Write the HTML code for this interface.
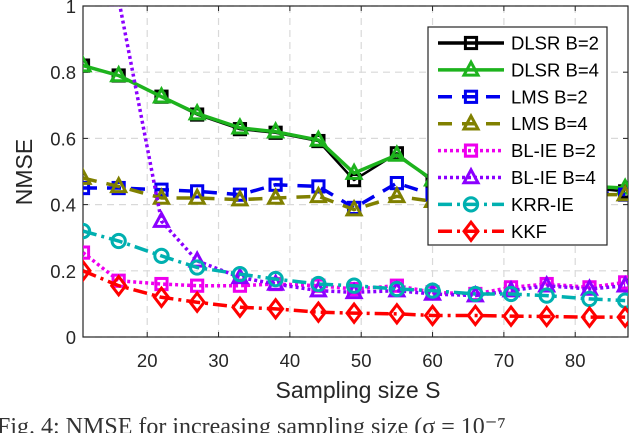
<!DOCTYPE html>
<html><head><meta charset="utf-8"><style>
body{margin:0;background:#fff;overflow:hidden;}
svg{display:block;font-family:"Liberation Sans",Arial,sans-serif;}
</style></head><body>
<svg id="chart" width="640" height="433" viewBox="0 0 640 433"></svg>
<script>
const xValues=[11,16,22,27,33,38,44,49,55,60,66,71,76,82,87];
const dlsr2=[0.82,0.79,0.726,0.672,0.628,0.617,0.592,0.474,0.555,0.47,0.46,0.455,0.45,0.45,0.44];
const dlsr4=[0.82,0.79,0.726,0.675,0.632,0.62,0.595,0.495,0.55,0.475,0.465,0.46,0.455,0.455,0.45];
const lms2=[0.45,0.45,0.445,0.44,0.43,0.46,0.455,0.39,0.465,0.43,0.44,0.44,0.44,0.44,0.43];
const lms4=[0.48,0.455,0.42,0.42,0.415,0.42,0.425,0.385,0.425,0.41,0.42,0.42,0.42,0.43,0.43];
const blie2=[0.255,0.17,0.16,0.155,0.155,0.16,0.155,0.145,0.155,0.135,0.13,0.15,0.16,0.15,0.165];
const blie4=[3,1.02,0.35,0.23,0.18,0.16,0.14,0.135,0.14,0.13,0.125,0.14,0.155,0.145,0.155];
const krr=[0.32,0.29,0.245,0.21,0.19,0.175,0.16,0.155,0.145,0.14,0.13,0.13,0.125,0.115,0.11];
const kkf=[0.2,0.155,0.12,0.105,0.09,0.085,0.075,0.072,0.07,0.065,0.065,0.063,0.062,0.06,0.06];
const xTicks=[20,30,40,50,60,70,80];
const yTicks=[0,0.2,0.4,0.6,0.8,1];
const yTickLabels=["0","0.2","0.4","0.6","0.8","1"];

const L=83,R=628,T=6,B=337,XMIN=11,XMAX=87.4;
const sx=v=>L+(v-XMIN)/(XMAX-XMIN)*(R-L);
const sy=v=>B-v*(B-T);
const NS="http://www.w3.org/2000/svg";
const svg=document.getElementById('chart');
function mk(tag,attrs,parent){const e=document.createElementNS(NS,tag);for(const k in attrs)e.setAttribute(k,attrs[k]);(parent||svg).appendChild(e);return e;}

const defs=mk('defs',{});
const cp=mk('clipPath',{id:'plotclip'},defs);
mk('rect',{x:L,y:T,width:R-L,height:B-T},cp);

const grid=mk('g',{});


xTicks.forEach(t=>{mk('line',{x1:sx(t),x2:sx(t),y1:T,y2:B,stroke:'#d9d9d9','stroke-width':1.2,'stroke-dasharray':'7,5'},grid);});
yTicks.forEach(t=>{mk('line',{x1:L,x2:R,y1:sy(t),y2:sy(t),stroke:'#d9d9d9','stroke-width':1.2,'stroke-dasharray':'7,5'},grid);});

const axes=mk('g',{});


mk('rect',{x:L,y:T,width:R-L,height:B-T,fill:'none',stroke:'#262626','stroke-width':1.2},axes);
xTicks.forEach(t=>{
  mk('line',{x1:sx(t),x2:sx(t),y1:B,y2:B-5,stroke:'#262626'},axes);
  mk('line',{x1:sx(t),x2:sx(t),y1:T,y2:T+5,stroke:'#262626'},axes);
  const tx=mk('text',{x:sx(t),y:367,'text-anchor':'middle','font-size':18.5,fill:'#262626'},axes);
  
  
  tx.textContent=t;
});
yTicks.forEach((t,i)=>{
  mk('line',{x1:L,x2:L+5,y1:sy(t),y2:sy(t),stroke:'#262626'},axes);
  mk('line',{x1:R,x2:R-5,y1:sy(t),y2:sy(t),stroke:'#262626'},axes);
  const tx=mk('text',{x:L-7,y:sy(t)+7,'text-anchor':'end','font-size':18.5,fill:'#262626'},axes);
  
  
  tx.textContent=yTickLabels[i];
});
const xl=mk('text',{x:358,y:398,'text-anchor':'middle','font-size':23,fill:'#262626'});


xl.textContent='Sampling size S';
const yl=mk('text',{x:0,y:0,'text-anchor':'middle','font-size':23,fill:'#262626',transform:'translate(32,172) rotate(-90)'});


yl.textContent='NMSE';
const cap=mk('text',{x:-3,y:434,'font-size':24,fill:'#333','font-family':'"Liberation Serif",serif'});


cap.textContent='Fig. 4: NMSE for increasing sampling size (σ = 10⁻⁷';

function marker(g,type,x,y,color,s){
  s=s||7;
  if(type==='sq')return mk('rect',{x:x-s*0.8,y:y-s*0.8,width:s*1.6,height:s*1.6,fill:'none',stroke:color,'stroke-width':3},g);
  if(type==='tri')return mk('polygon',{points:`${x},${y-s*1.1} ${x-s},${y+s*0.75} ${x+s},${y+s*0.75}`,fill:'none',stroke:color,'stroke-width':3},g);
  if(type==='circ')return mk('circle',{cx:x,cy:y,r:s*0.95,fill:'none',stroke:color,'stroke-width':3},g);
  if(type==='dia')return mk('polygon',{points:`${x},${y-s*1.3} ${x-s},${y} ${x},${y+s*1.3} ${x+s},${y}`,fill:'none',stroke:color,'stroke-width':3},g);
}
const series=[
 {name:'DLSR B=2',vals:dlsr2,color:'#000000',dash:'',m:'sq',id:'dlsr-b2'},
 {name:'DLSR B=4',vals:dlsr4,color:'#1db31d',dash:'',m:'tri',id:'dlsr-b4'},
 {name:'LMS B=2',vals:lms2,color:'#0000ee',dash:'14,10',m:'sq',id:'lms-b2'},
 {name:'LMS B=4',vals:lms4,color:'#808000',dash:'14,10',m:'tri',id:'lms-b4'},
 {name:'BL-IE B=2',vals:blie2,color:'#ee00ee',dash:'3,3',m:'sq',id:'blie-b2'},
 {name:'BL-IE B=4',vals:blie4,color:'#8b00ff',dash:'3,3',m:'tri',id:'blie-b4'},
 {name:'KRR-IE',vals:krr,color:'#00b0b0',dash:'14,5,3,5',m:'circ',id:'krr-ie'},
 {name:'KKF',vals:kkf,color:'#ff0000',dash:'14,5,3,5',m:'dia',id:'kkf'}
];
const plot=mk('g',{'clip-path':'url(#plotclip)'});


series.forEach(s=>{
  const g=mk('g',{},plot);
  
  
  const pts=s.vals.map((v,i)=>sx(xValues[i])+','+sy(v)).join(' ');
  const pl=mk('polyline',{points:pts,fill:'none',stroke:s.color,'stroke-width':s.id==='dlsr-b2'?2.5:3.5,'stroke-dasharray':s.dash,'stroke-linejoin':'round'},g);
  
  
  s.vals.forEach((v,i)=>{
    const mkr=marker(g,s.m,sx(xValues[i]),sy(v),s.color);
    
    
  });
});
const lg=mk('g',{});


mk('rect',{x:428,y:27,width:179,height:218,fill:'#fff',stroke:'#262626','stroke-width':1.2},lg);
series.forEach((s,i)=>{
  const y=43+i*26.9;
  const e=mk('g',{},lg);
  
  
  mk('line',{x1:438,x2:504,y1:y,y2:y,stroke:s.color,'stroke-width':3.5,'stroke-dasharray':s.dash},e);
  marker(e,s.m,471,y,s.color);
  const t=mk('text',{x:511,y:y+6.5,'font-size':18.5,fill:'#000'},e);
  t.textContent=s.name;
});
</script>
</body></html>
